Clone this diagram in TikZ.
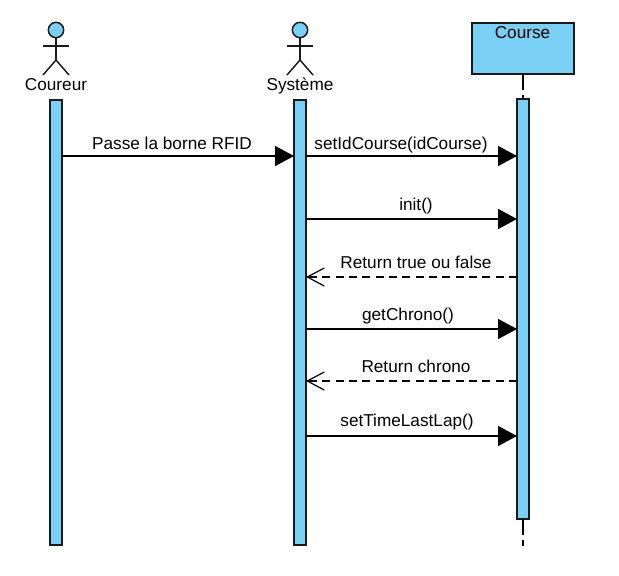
\documentclass[tikz,border=0pt]{standalone}
\usepackage{fontspec}
\setmainfont{Liberation Sans}
\usetikzlibrary{arrows.meta}
\definecolor{umlblue}{HTML}{7ACFF5}
\definecolor{umlline}{HTML}{1A1A1A}
\tikzset{
  x=0.75pt, y=-0.75pt,
  bar/.style={draw=umlline, fill=umlblue, line width=1.5pt, minimum width=9pt, inner sep=0pt, outer sep=0pt, anchor=north},
  classbox/.style={draw=umlline, fill=umlblue, line width=1.5pt, minimum width=76.5pt, minimum height=38.25pt, inner sep=0pt, outer sep=0pt},
  head/.style={circle, draw=umlline, fill=umlblue, line width=1.1pt, minimum size=11.5pt, inner sep=0pt, outer sep=0pt},
  limb/.style={draw=umlline, line width=1.1pt},
  lbl/.style={font=\fontsize{12.9pt}{15pt}\selectfont, text=black, inner sep=0pt, anchor=base},
  call/.style={draw=black, line width=1.1pt, -{Triangle[length=14.25pt,width=15pt]}},
  reply/.style={draw=black, line width=1.1pt, dash pattern=on 6pt off 4pt, -{Straight Barb[length=12.75pt,width=13.5pt,line width=0.9pt]}},
  life/.style={draw=black, line width=1.1pt, dash pattern=on 12pt off 4pt},
}
\begin{document}
\begin{tikzpicture}
\useasboundingbox (0,0) rectangle (619,576);
\fill[white] (0,0) rectangle (619,576);
% lifeline ends
\node[classbox] (course) at (523,48.5) {};
\node[lbl] (courselbl) at (522.5,38.5) {Course};
\node[bar, minimum height=315pt] (b3) at (523,99) {};
\coordinate (b3end) at (523,546);
\draw[life] (course.south) -- (b3.north);
\draw[life] (b3.south) -- (b3end);
% actors
\foreach \nm/\cx/\txt in {a/56/Coureur, b/300/Système}{
  \node[head] (\nm head) at (\cx,30) {};
  \coordinate (\nm hip) at (\cx,60);
  \coordinate (\nm al) at (\cx-13,46);
  \coordinate (\nm ar) at (\cx+13,46);
  \coordinate (\nm ll) at (\cx-13,75);
  \coordinate (\nm lr) at (\cx+13,75);
  \draw[limb] (\nm head.south) -- (\nm hip);
  \draw[limb] (\nm al) -- (\nm ar);
  \draw[limb] (\nm ll) -- (\nm hip) -- (\nm lr);
  \node[lbl] (\nm lbl) at (\cx,90.5) {\txt};
}
\node[bar, minimum height=333.75pt] (b1) at (56,100) {};
\node[bar, minimum height=333.75pt] (b2) at (300,100) {};
% messages
\foreach \nm/\yy in {m1/156,m2/156,m3/219,m4/277,m5/329,m6/381,m7/436}{
  \coordinate (\nm l) at (b2.east |- 0,\yy);
  \coordinate (\nm r) at (b3.west |- 0,\yy);
}
\coordinate (m1l) at (b1.east |- 0,156);
\coordinate (m1r) at (b2.west |- 0,156);
\draw[call] (m1l) -- (m1r);
\draw[call] (m2l) -- (m2r);
\draw[call] (m3l) -- (m3r);
\draw[reply] (m4r) -- (m4l);
\draw[call] (m5l) -- (m5r);
\draw[reply] (m6r) -- (m6l);
\draw[call] (m7l) -- (m7r);
\node[lbl] (t1) at (172,149) {Passe la borne RFID};
\node[lbl] (t2) at (401,149) {setIdCourse(idCourse)};
\node[lbl] (t3) at (416,210) {init()};
\node[lbl] (t4) at (416,268) {Return true ou false};
\node[lbl] (t5) at (408,320) {getChrono()};
\node[lbl] (t6) at (416,372) {Return chrono};
\node[lbl] (t7) at (407,426) {setTimeLastLap()};
\end{tikzpicture}
\end{document}
